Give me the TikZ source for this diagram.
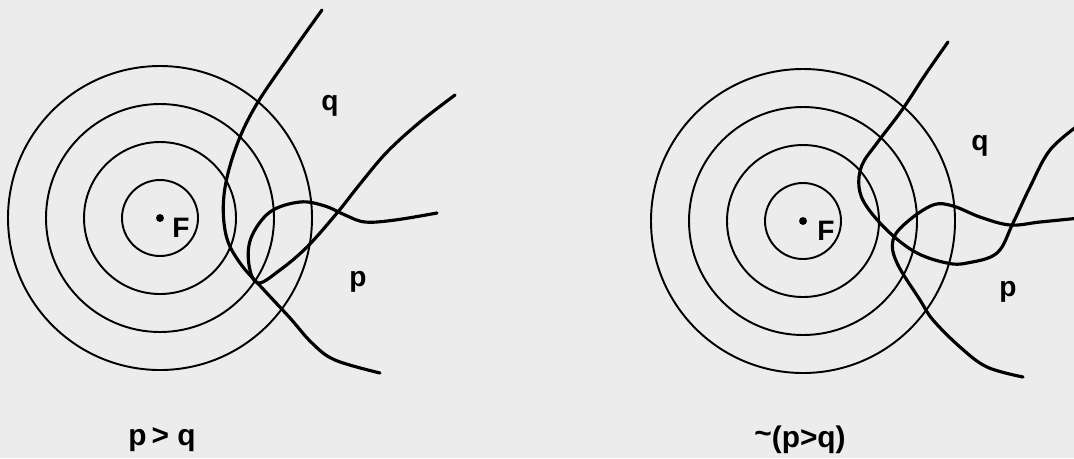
\documentclass[tikz,border=0pt]{standalone}
\usepackage{fontspec}
\setmainfont{Liberation Sans}
\usepackage{xcolor}
\usepackage{tikz}
\usetikzlibrary{positioning}
\definecolor{paper}{RGB}{236,236,236}

\begin{document}
\begin{tikzpicture}[
  x=0.02cm, y=-0.02cm,
  ring/.style={line width=1.1pt},
  wff/.style={line width=1.8pt, line cap=round, line join=round},
  lbl/.style={font=\fontsize{16}{18}\selectfont\bfseries, inner sep=0pt},
  caption/.style={font=\fontsize{17}{19}\selectfont\bfseries, inner sep=0pt},
  focus/.style={circle, fill=black, inner sep=0pt, minimum size=4.5pt}
]
  % background and bounds
  \fill[paper] (0,0) rectangle (1074,458);
  \useasboundingbox (0,0) rectangle (1074,458);
  \clip (0,0) rectangle (1074,458);

  % left panel: p > q
  \node[focus] (F1) at (160,218) {};
  \foreach \r in {38,76,114,152}
    \draw[ring] (F1.center) circle [radius=\r];
  \node[lbl] (F1lbl) at (181,228) {F};
  \draw[wff] plot[smooth, tension=0.6] coordinates {
    (322,10) (290,55) (255,107) (235,150) (224,195) (226,235)
    (240,263) (264,290) (290,318) (312,343) (335,360) (380,373)};
  \draw[wff] plot[smooth, tension=0.6] coordinates {
    (455,95) (420,122) (387,152) (360,184) (337,213) (307,247)
    (280,270) (258,283) (249,265) (251,238) (270,212) (300,202)
    (325,206) (345,215) (365,222) (395,220) (437,213)};
  \node[lbl] (q1) at (330,106) {q};
  \node[lbl] (p1) at (358,282) {p};
  \node[caption] (cap1) at (162,440) {p\,> q};

  % right panel: ~(p > q)
  \node[focus] (F2) at (803,221) {};
  \foreach \r in {38,76,114,152}
    \draw[ring] (F2.center) circle [radius=\r];
  \node[lbl] (F2lbl) at (826,231) {F};
  \draw[wff] plot[smooth, tension=0.6] coordinates {
    (948,42) (925,75) (902,110) (877,143) (862,165) (859,187)
    (867,207) (890,233) (917,253) (947,263) (967,263) (997,253)
    (1013,223) (1030,187) (1050,150) (1080,124)};
  \draw[wff] plot[smooth, tension=0.6] coordinates {
    (1023,377) (987,367) (960,347) (933,320) (920,300) (897,263)
    (893,240) (907,222) (933,205) (953,206) (980,217) (1010,225)
    (1040,222) (1080,218)};
  \node[lbl] (q2) at (980,146) {q};
  \node[lbl] (p2) at (1008,292) {p};
  \node[caption] (cap2) at (800,440) {\raisebox{0.3ex}{\textasciitilde}(p>q)};
\end{tikzpicture}
\end{document}
